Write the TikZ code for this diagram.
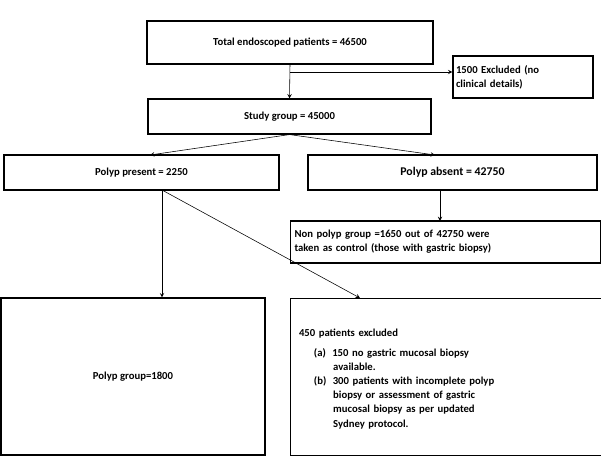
\documentclass[tikz,border=0pt]{standalone}
\usepackage{fontspec}
\setmainfont{Carlito}
\usetikzlibrary{positioning}
\tikzset{
    box/.style={draw, thick, inner sep=2pt, font=\bfseries\fontsize{7.6}{10}\selectfont},
    link/.style={->, >=stealth}
}
\begin{document}
\begin{tikzpicture}[x=0.025cm, y=-0.025cm]
    \useasboundingbox (0,0) rectangle (601,470);

    %boxes
    \node[box, minimum width=286*0.025cm, minimum height=43*0.025cm] (total) at (290,42.5) {Total endoscoped patients = 46500};
    \node[box, minimum width=140*0.025cm, minimum height=42*0.025cm, text width=134*0.025cm, align=left] (excl) at (523,77) {1500 Excluded (no\\clinical details)};
    \node[box, minimum width=283*0.025cm, minimum height=35*0.025cm] (study) at (289.5,116.5) {Study group = 45000};
    \node[box, minimum width=275*0.025cm, minimum height=35*0.025cm] (present) at (141.5,172.5) {Polyp present = 2250};
    \node[box, minimum width=289*0.025cm, minimum height=35*0.025cm, font=\bfseries\fontsize{8.4}{10}\selectfont] (absent) at (452.5,172.5) {Polyp absent = 42750};
    \node[box, minimum width=310*0.025cm, minimum height=42*0.025cm, text width=302*0.025cm, align=left] (nonpolyp) at (445.5,242) {Non polyp group =1650 out of 42750 were\\taken as control (those with gastric biopsy)};
    \node[box, minimum width=264*0.025cm, minimum height=157*0.025cm] (pgroup) at (133,376.5) {Polyp group=1800};
    \node[box, minimum width=310*0.025cm, minimum height=157*0.025cm, text width=298*0.025cm, align=left, anchor=north west, inner sep=6pt] (pexcl) at (290,298) {%
        \\[-0.6ex]450 patients excluded\\[1.2ex]
        \hspace{1.4em}(a)\hspace{0.6em}150 no gastric mucosal biopsy\\
        \hspace{3.2em}available.\\
        \hspace{1.4em}(b)\hspace{0.6em}300 patients with incomplete polyp\\
        \hspace{3.2em}biopsy or assessment of gastric\\
        \hspace{3.2em}mucosal biopsy as per updated\\
        \hspace{3.2em}Sydney protocol.\\[4ex]};

    %connectors
    \coordinate (split) at (290,72);
    \coordinate (pp) at (162,190);
    \draw[link] (total.south) -- (study.north);
    \draw[link] (split) -- (excl.west |- split);
    \draw[link] (study.south) -- (150,155);
    \draw[link] (study.south) -- (435,155);
    \draw[link] (440,190) -- (440,221);
    \draw[link] (pp) -- (pp |- pgroup.north);
    \draw[link] (pp) -- (360,298);
\end{tikzpicture}
\end{document}
